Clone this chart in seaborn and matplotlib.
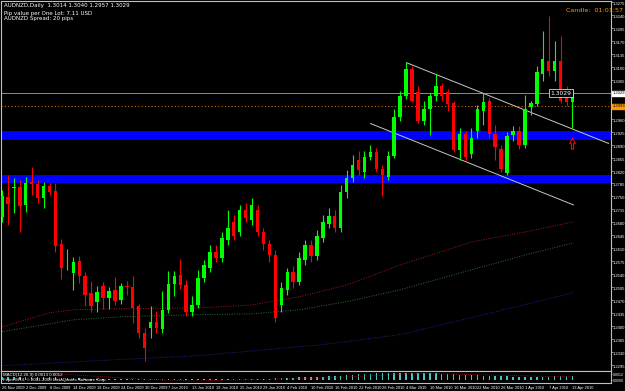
import numpy as np
import pandas as pd
import matplotlib
matplotlib.use("Agg")
import matplotlib.pyplot as plt
import seaborn as sns
from matplotlib.path import Path

# ---------------- data ----------------
opens = [1.2694, 1.2749, 1.2774, 1.2776, 1.2727, 1.2788, 1.2783, 1.2745, 1.2778, 1.2765,
         1.2622, 1.2564, 1.2544, 1.2577, 1.2536, 1.2490, 1.2464, 1.2507, 1.2477, 1.2498,
         1.2471, 1.2509, 1.2505, 1.2453, 1.2382, 1.2395, 1.2410, 1.2393, 1.2444, 1.2514,
         1.2538, 1.2511, 1.2437, 1.2458, 1.2530, 1.2557, 1.2600, 1.2584, 1.2632, 1.2681,
         1.2654, 1.2713, 1.2686, 1.2713, 1.2654, 1.2622, 1.2592, 1.2458, 1.2498, 1.2546,
         1.2519, 1.2579, 1.2619, 1.2589, 1.2638, 1.2675, 1.2697, 1.2665, 1.2762, 1.2799,
         1.2848, 1.2816, 1.2856, 1.2870, 1.2823, 1.2803, 1.2858, 1.2964, 1.3022, 1.3094,
         1.3031, 1.2955, 1.2987, 1.3020, 1.3049, 1.3031, 1.3002, 1.2876, 1.2919, 1.2864,
         1.2926, 1.2982, 1.3009, 1.2919, 1.2879, 1.2812, 1.2915, 1.2926, 1.2888, 1.2991,
         1.3000, 1.3081, 1.3117, 1.3090, 1.3117, 1.3036, 1.3004]
highs = [1.2767, 1.2807, 1.2799, 1.2794, 1.2802, 1.2830, 1.2794, 1.2789, 1.2786, 1.2785,
         1.2635, 1.2607, 1.2586, 1.2589, 1.2547, 1.2523, 1.2509, 1.2518, 1.2505, 1.2532,
         1.2516, 1.2523, 1.2536, 1.2460, 1.2396, 1.2453, 1.2442, 1.2496, 1.2550, 1.2550,
         1.2580, 1.2525, 1.2480, 1.2552, 1.2579, 1.2619, 1.2619, 1.2654, 1.2713, 1.2700,
         1.2727, 1.2732, 1.2745, 1.2727, 1.2665, 1.2632, 1.2605, 1.2519, 1.2557, 1.2563,
         1.2600, 1.2632, 1.2632, 1.2659, 1.2700, 1.2718, 1.2713, 1.2780, 1.2821, 1.2861,
         1.2874, 1.2874, 1.2888, 1.2880, 1.2834, 1.2874, 1.2987, 1.3036, 1.3112, 1.3103,
         1.3049, 1.3009, 1.3030, 1.3081, 1.3057, 1.3041, 1.3009, 1.2934, 1.2928, 1.2934,
         1.2996, 1.3028, 1.3017, 1.2942, 1.2888, 1.2923, 1.2939, 1.2939, 1.3025, 1.3009,
         1.3103, 1.3197, 1.3238, 1.3170, 1.3184, 1.3049, 1.3041]
lows = [1.2681, 1.2673, 1.2705, 1.2655, 1.2709, 1.2753, 1.2732, 1.2718, 1.2753, 1.2601,
        1.2527, 1.2552, 1.2498, 1.2517, 1.2453, 1.2438, 1.2438, 1.2446, 1.2446, 1.2458,
        1.2460, 1.2484, 1.2408, 1.2369, 1.2305, 1.2368, 1.2381, 1.2381, 1.2435, 1.2480,
        1.2500, 1.2426, 1.2426, 1.2450, 1.2519, 1.2546, 1.2573, 1.2573, 1.2619, 1.2632,
        1.2643, 1.2681, 1.2673, 1.2643, 1.2605, 1.2573, 1.2412, 1.2439, 1.2484, 1.2503,
        1.2511, 1.2565, 1.2573, 1.2579, 1.2627, 1.2665, 1.2654, 1.2654, 1.2745, 1.2788,
        1.2807, 1.2799, 1.2848, 1.2815, 1.2752, 1.2794, 1.2853, 1.2955, 1.3014, 1.3004,
        1.2947, 1.2942, 1.2915, 1.3009, 1.3009, 1.2982, 1.2869, 1.2848, 1.2845, 1.2853,
        1.2907, 1.2942, 1.2909, 1.2848, 1.2815, 1.2807, 1.2901, 1.2877, 1.2880, 1.2969,
        1.2993, 1.3063, 1.3076, 1.3063, 1.3001, 1.2995, 1.2934]
closes = [1.2751, 1.2731, 1.2776, 1.2724, 1.2787, 1.2783, 1.2747, 1.2778, 1.2761, 1.2616,
          1.2558, 1.2566, 1.2573, 1.2536, 1.2484, 1.2453, 1.2493, 1.2476, 1.2496, 1.2468,
          1.2509, 1.2505, 1.2449, 1.2382, 1.2342, 1.2410, 1.2396, 1.2444, 1.2514, 1.2536,
          1.2511, 1.2437, 1.2458, 1.2530, 1.2565, 1.2600, 1.2584, 1.2638, 1.2665, 1.2643,
          1.2713, 1.2692, 1.2727, 1.2654, 1.2622, 1.2592, 1.2422, 1.2503, 1.2546, 1.2519,
          1.2584, 1.2619, 1.2589, 1.2643, 1.2681, 1.2697, 1.2665, 1.2762, 1.2799, 1.2834,
          1.2821, 1.2856, 1.2870, 1.2823, 1.2807, 1.2858, 1.2964, 1.3022, 1.3094, 1.3009,
          1.2955, 1.2987, 1.3020, 1.3049, 1.3022, 1.3000, 1.2876, 1.2919, 1.2856, 1.2909,
          1.2985, 1.3006, 1.2919, 1.2883, 1.2823, 1.2912, 1.2928, 1.2888, 1.2987, 1.3001,
          1.3085, 1.3122, 1.3090, 1.3117, 1.3007, 1.3004, 1.3031]

# moving averages read at a few bars
ma_idx = [0, 8, 12, 20, 33, 42, 50, 58, 67, 79, 88, 96]
ma_red = [1.2398, 1.2436, 1.2444, 1.2447, 1.2449, 1.2457, 1.2479, 1.2511, 1.2565, 1.2627, 1.2654, 1.2681]
ma_green = [1.2385, 1.2406, 1.2417, 1.2425, 1.2431, 1.2433, 1.2444, 1.2466, 1.2498, 1.2552, 1.2592, 1.2624]
ma_blue_idx = [0, 20, 33, 54, 67, 79, 88, 96]
ma_blue = [1.2293, 1.2310, 1.2320, 1.2350, 1.2377, 1.2423, 1.2458, 1.2490]

# trend channel (bar index, price)
upper_line_idx = [68.1, 102.1]
upper_line_px = [1.3111, 1.2893]
lower_line_idx = [62.0, 96.2]
lower_line_px = [1.2947, 1.2727]

# support / resistance zones
zones = [(1.2903, 1.2926), (1.2786, 1.2809)]
bid_price = 1.3029
orange_level = 1.2993
arrow_bar, arrow_price = 96, 1.2893

# lower indicator (histogram + signal, in units of 0.0001)
macd = [3, 3, 3, 3, 3, 3, 3, 3, 3, 3, 2, 2, 2, 2, 1, 1, 1, 1, 1, 1,
        1, 1, 1, 1, 1, 1, 1, 1, 1, 1, 1, 1, 1, 1, 1, 1, 1, 1, 1, 1,
        1, 1, 1, 1, 1, 1, 2, 2, 2, 2, 3, 3, 3, 3, 3, 4, 4, 4, 5, 5,
        6, 6, 6, 7, 7, 7, 7, 7, 7, 7, 7, 7, 7, 7, 6, 6, 6, 5, 5, 5,
        5, 4, 4, 4, 4, 4, 3, 3, 3, 3, 3, 3, 3, 4, 4, 4, 4]
signal_idx = [0, 8, 23, 32, 54, 70, 75, 96]
signal = [6.5, 6.7, 1.0, -1.0, 2.0, 6.5, 6.0, 3.0]

date_labels = ["26 Nov 2009", "2 Dec 2009", "8 Dec 2009", "14 Dec 2009", "18 Dec 2009",
               "24 Dec 2009", "30 Dec 2009", "7 Jan 2010", "13 Jan 2010", "19 Jan 2010",
               "25 Jan 2010", "29 Jan 2010", "4 Feb 2010", "10 Feb 2010", "16 Feb 2010",
               "22 Feb 2010", "26 Feb 2010", "4 Mar 2010", "10 Mar 2010", "16 Mar 2010",
               "22 Mar 2010", "26 Mar 2010", "1 Apr 2010", "7 Apr 2010", "13 Apr 2010"]
price_ticks = [1.2295, 1.2330, 1.2365, 1.2400, 1.2435, 1.2470, 1.2505, 1.2540, 1.2575, 1.2610,
               1.2645, 1.2680, 1.2715, 1.2750, 1.2785, 1.2820, 1.2855, 1.2890, 1.2925, 1.2960,
               1.2995, 1.3030, 1.3065, 1.3100, 1.3135, 1.3170, 1.3205, 1.3240, 1.3275]

# ---------------- drawing ----------------
sns.set_theme(style="dark", rc={"axes.facecolor": "black", "figure.facecolor": "black"})
NARROW = ['Liberation Sans Narrow', 'Liberation Sans', 'DejaVu Sans']
plt.rcParams['font.family'] = ['DejaVu Sans']

W, H = 625, 391
YLO, YHI = 1.22788, 1.32777
fig = plt.figure(figsize=(W / 100, H / 100), dpi=100, facecolor="black")
ax = fig.add_axes([0.5 / W, (H - 371) / H, 610 / W, 370 / H])
ax2 = fig.add_axes([0.5 / W, (H - 383) / H, 610 / W, 12 / H], sharex=ax)

df = pd.DataFrame({"open": opens, "high": highs, "low": lows, "close": closes})
df["idx"] = np.arange(len(df))
bull = df["close"] >= df["open"]
cols = np.where(bull, "#00ff00", "#ff0000")

for a in (ax, ax2):
    a.set_facecolor("black")
    for s in a.spines.values():
        s.set_color("#c0c0c0")
        s.set_linewidth(0.8)
    a.grid(False)

# zones
for lo, hi in zones:
    ax.axhspan(lo, hi, color="#0000ff", lw=0, zorder=1)

# moving averages
sns.lineplot(x=ma_idx, y=ma_red, ax=ax, color="#9c1c1c", lw=0.7, linestyle=(0, (1, 1.5)), zorder=2)
sns.lineplot(x=ma_idx, y=ma_green, ax=ax, color="#2f6f2f", lw=0.7, linestyle=(0, (1, 1.5)), zorder=2)
sns.lineplot(x=ma_blue_idx, y=ma_blue, ax=ax, color="#23238f", lw=0.7, linestyle=(0, (1, 1.5)), zorder=2)

# horizontal lines
ax.axhline(bid_price, color="#8c8c8c", lw=0.7, zorder=2)
ax.axhline(orange_level, color="#c07000", lw=0.8, linestyle=(0, (1, 2)), zorder=2)

# channel
ax.plot(upper_line_idx, upper_line_px, color="#c8c8c8", lw=0.7, zorder=3)
ax.plot(lower_line_idx, lower_line_px, color="#c8c8c8", lw=0.7, zorder=3)

# candles
ax.vlines(df["idx"], df["low"], df["high"], colors=cols, lw=0.8, zorder=4)
body = (df["close"] - df["open"]).abs().clip(lower=0.00012)
ax.bar(df["idx"], body, bottom=np.minimum(df["open"], df["close"]), width=0.58,
       color=cols, lw=0, zorder=5)

# arrow marker
arrow = Path([(-0.5, 0), (0, 1), (0.5, 0), (0.2, 0), (0.2, -1), (-0.2, -1), (-0.2, 0), (-0.5, 0)],
             [Path.MOVETO] + [Path.LINETO] * 6 + [Path.CLOSEPOLY])
ax.plot([arrow_bar], [arrow_price], marker=arrow, markersize=8, mfc="none", mec="#ff0000", mew=0.8, zorder=6)

ax.set_xlim(-0.25, 102.4)
ax.set_ylim(YLO, YHI)
ax.yaxis.tick_right()
ax.set_yticks(price_ticks)
ax.set_yticklabels([f"{t:.4f}" for t in price_ticks], family=NARROW)
ax.tick_params(axis="y", colors="#c0c0c0", labelcolor="white", labelsize=3.0, length=1.2, width=0.5, pad=0.6)
for lbl in ax.get_yticklabels():
    lbl.set_va("top")
ax.tick_params(axis="x", bottom=False, labelbottom=False)

def frac(p):
    return (p - YLO) / (YHI - YLO)

# price label boxes on the axis
ax.text(1.0035, frac(bid_price), "1.3029", transform=ax.transAxes, family=NARROW,
        fontsize=3.0, color="black", va="center", ha="left",
        bbox=dict(boxstyle="square,pad=0.12", fc="white", ec="white"), zorder=10, clip_on=False)
ax.text(1.0035, frac(orange_level), "1.2993", transform=ax.transAxes, family=NARROW,
        fontsize=3.0, color="black", va="center", ha="left",
        bbox=dict(boxstyle="square,pad=0.12", fc="#ff9900", ec="#ff9900"), zorder=10, clip_on=False)
ax.text(92.3, bid_price, "1.3029", fontsize=4.3, color="white", va="center", ha="left",
        bbox=dict(boxstyle="square,pad=0.2", fc="black", ec="white", lw=0.5), zorder=10)

# indicator panel
sns.barplot(x=df["idx"], y=np.array(macd) * 0.0001, ax=ax2, native_scale=True,
            color="#40c8c8", width=0.25, linewidth=0, saturation=1)
sns.lineplot(x=signal_idx, y=np.array(signal) * 0.0001, ax=ax2, color="#a01818", lw=0.6,
             linestyle=(0, (1, 1.5)))
ax2.set_ylim(-0.0003, 0.0009)
ax2.set_xlim(-0.25, 102.4)
ax2.set_ylabel("")
ax2.set_xlabel("")
ax2.yaxis.tick_right()
ax2.set_yticks([0.0006, 0.0])
ax2.set_yticklabels(["0.0012", "0.0000"], family=NARROW)
ax2.tick_params(axis="y", colors="#c0c0c0", labelcolor="white", labelsize=2.6, length=1.0, width=0.5, pad=0.6)
tick_pos = list(range(0, 4 * len(date_labels), 4))
ax2.set_xticks(tick_pos)
ax2.set_xticklabels(date_labels, ha="left", family=NARROW)
ax2.tick_params(axis="x", colors="#c0c0c0", labelcolor="white", labelsize=2.9, length=1.2, width=0.5, pad=0.8)

# texts
fig.text(4 / W, 1 - 5 / H, "AUDNZD,Daily  1.3014 1.3040 1.2957 1.3029", color="white", fontsize=4.0, va="center")
fig.text(4 / W, 1 - 13 / H, "Pip value per One Lot: 7.11 USD", color="white", fontsize=4.0, va="center")
fig.text(4 / W, 1 - 18.5 / H, "AUDNZD Spread: 20 pips", color="white", fontsize=4.0, va="center")
fig.text(566 / W, 1 - 11 / H, "Candle:  01:01:57", color="#ff9900", fontsize=4.6, va="center")
fig.text(3 / W, 1 - 375 / H, "MACD(12,26,9) 0.0013 0.0012", color="white", fontsize=3.2, va="center",
         family=NARROW)
fig.text(3 / W, 1 - 379.5 / H, "Fxpro MT4, \u00a9 2001-2009 MetaQuotes Software Corp.", color="white",
         fontsize=3.2, va="center", family=NARROW)

fig.savefig("out.png", dpi=100, facecolor="black")
